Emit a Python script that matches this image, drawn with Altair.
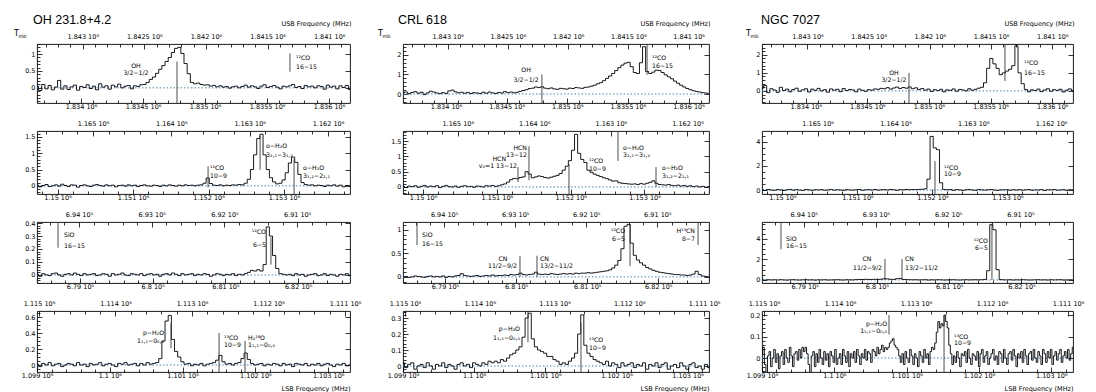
import math
import altair as alt
import pandas as pd

FONT = "DejaVu Sans"
TITLE_FONT = "Liberation Sans"
BLUE = "#3f86d6"
MARK_COLOR = "#3a3a3a"

SOURCES = ["OH 231.8+4.2", "CRL 618", "NGC 7027"]
PANEL_W = [313, 306, 311]
PANEL_H = [59, 63, 61, 61]

# frequency windows (MHz) per row: LSB (bottom axis) and USB (top axis)
LSB_RANGE = [[1833645, 1836169], [1149728, 1153874], [678409, 682714], [1099000, 1103300]]
USB_RANGE = [[1840831, 1843371], [1161719, 1165715], [690273, 694578], [1110935, 1115026]]
LSB_TICKS = [[1834000, 1834500, 1835000, 1835500, 1836000],
             [1150000, 1151000, 1152000, 1153000],
             [679000, 680000, 681000, 682000],
             [1099000, 1100000, 1101000, 1102000, 1103000]]
USB_TICKS = [[1841000, 1841500, 1842000, 1842500, 1843000],
             [1162000, 1163000, 1164000, 1165000],
             [691000, 692000, 693000, 694000],
             [1111000, 1112000, 1113000, 1114000, 1115000]]
TICK_EXP = [6, 6, 5, 6]
X_MINOR = [100, 200, 200, 200]

Y_RANGE = [
    [[-0.45, 1.30], [-0.25, 1.68], [-0.062, 0.408], [-0.0875, 0.675]],
    [[-0.46, 2.56], [-0.23, 1.83], [-0.13, 1.17], [-0.0375, 0.344]],
    [[-0.67, 2.60], [-0.33, 4.90], [-0.30, 5.66], [-0.065, 0.219]],
]
Y_TICKS = [
    [[0, 0.5, 1], [0, 0.5, 1, 1.5], [0, 0.1, 0.2, 0.3, 0.4], [0, 0.2, 0.4, 0.6]],
    [[0, 1, 2], [0, 0.5, 1, 1.5], [0, 0.5, 1], [0, 0.1, 0.2, 0.3]],
    [[0, 1, 2], [0, 2, 4], [0, 2, 4], [0, 0.1, 0.2]],
]
Y_MINOR = [[0.1, 0.1, 0.02, 0.05], [0.2, 0.1, 0.1, 0.02], [0.2, 0.5, 0.5, 0.02]]

# ---------------- spectra (Tmb, evenly spaced channels across each window) ----------------
OH231_R1 = [0.05, -0.08, 0.10, -0.03, 0.07, -0.06, 0.02, 0.22, -0.04, 0.06,
            -0.05, 0.03, 0.08, -0.07, 0.04, 0.01, 0.09, -0.02, 0.05, -0.06,
            0.12, 0.02, 0.06, -0.04, 0.08, 0.03, 0.11, 0.00, 0.05, 0.07,
            -0.03, 0.06, 0.04, 0.09, 0.10, 0.16, 0.25, 0.32, 0.43, 0.55,
            0.66, 0.78, 0.90, 1.05, 1.17, 1.20, 1.02, 0.72, 0.42, 0.16,
            0.12, 0.14, 0.10, 0.08, 0.09, 0.05, 0.07, 0.03, 0.06, 0.02,
            0.04, -0.01, 0.03, 0.05, 0.00, 0.04, 0.08, 0.02, 0.06, 0.03,
            -0.02, 0.05, 0.09, 0.01, 0.04, 0.07, 0.02, -0.03, 0.05, 0.03,
            0.06, 0.10, 0.01, 0.04, -0.02, 0.07, 0.03, 0.05, 0.00, 0.06,
            0.04, -0.04, 0.08, 0.02, 0.05, -0.03, 0.06, 0.01, 0.07, -0.05]
OH231_R2 = [0.02, -0.03, 0.01, 0.04, -0.02, 0.00, 0.03, -0.01, 0.05, 0.01,
            -0.02, 0.03, 0.02, -0.04, 0.01, 0.03, 0.00, -0.02, 0.02, 0.04,
            0.01, -0.01, 0.03, 0.00, 0.02, -0.03, 0.01, 0.02, -0.01, 0.03,
            0.00, 0.02, -0.02, 0.01, 0.03, 0.00, -0.01, 0.02, 0.01, -0.02,
            0.02, 0.00, 0.03, 0.01, -0.01, 0.02, 0.00, 0.03, 0.01, 0.02,
            0.00, 0.02, 0.03, 0.08, 0.24, 0.07, 0.02, 0.01, 0.03, 0.00,
            0.02, 0.01, 0.03, 0.02, 0.04, 0.03, 0.08, 0.20, 0.50, 0.95,
            1.45, 1.58, 0.95, 0.50, 0.25, 0.12, 0.06, 0.08, 0.18, 0.40,
            0.70, 0.88, 0.72, 0.35, 0.10, 0.04, 0.02, 0.03, 0.00, 0.02,
            0.01, -0.02, 0.02, 0.00, 0.03, -0.01, 0.02, -0.03, 0.01, 0.00]
OH231_R3 = [0.005, -0.01, 0.01, 0.00, -0.005, 0.01, 0.015, 0.00, -0.01, 0.005,
            0.01, 0.00, 0.015, 0.005, -0.005, 0.01, 0.00, 0.005, 0.01, -0.005,
            0.00, 0.01, 0.005, -0.01, 0.01, 0.00, 0.005, 0.015, 0.00, -0.005,
            0.01, 0.005, 0.00, 0.01, -0.005, 0.005, 0.01, 0.00, 0.005, -0.01,
            0.005, 0.01, 0.00, 0.015, 0.005, -0.005, 0.01, 0.00, 0.005, 0.01,
            -0.005, 0.005, 0.00, 0.01, 0.005, -0.01, 0.00, 0.01, 0.005, -0.005,
            0.005, 0.00, 0.01, -0.005, 0.005, 0.00, 0.01, 0.02, 0.035, 0.03,
            0.04, 0.03, 0.08, 0.37, 0.30, 0.15, 0.05, 0.01, 0.005, 0.00,
            0.005, -0.005, 0.01, 0.00, 0.005, -0.01, 0.00, 0.005, 0.01, -0.005,
            0.00, 0.01, -0.005, 0.005, 0.00, -0.01, 0.005, 0.00, 0.01, -0.005]
OH231_R4 = [0.01, -0.02, 0.02, 0.00, 0.03, -0.01, 0.01, 0.02, -0.02, 0.00,
            0.02, 0.01, -0.01, 0.03, 0.00, 0.01, -0.02, 0.02, 0.00, 0.01,
            0.03, -0.01, 0.01, 0.02, 0.00, -0.02, 0.02, 0.01, 0.03, 0.00,
            0.01, 0.02, -0.01, 0.02, 0.00, 0.03, 0.01, 0.02, 0.03, 0.08,
            0.30, 0.55, 0.62, 0.32, 0.17, 0.10, 0.04, 0.01, 0.02, -0.01,
            0.01, 0.00, 0.02, -0.01, 0.01, 0.02, 0.03, 0.06, 0.12, 0.04,
            0.01, 0.02, 0.00, 0.02, 0.03, 0.08, 0.15, 0.07, 0.02, 0.00,
            0.01, 0.02, -0.01, 0.01, 0.00, 0.02, 0.01, -0.01, 0.02, 0.00,
            0.01, -0.02, 0.02, 0.01, 0.00, 0.02, -0.01, 0.01, 0.00, 0.02,
            -0.01, 0.01, 0.02, 0.00, -0.02, 0.01, 0.00, 0.02, -0.01, 0.00]

CRL618_R1 = [0.05, 0.10, 0.02, 0.08, 0.12, 0.04, 0.09, -0.03, 0.06, 0.14,
             0.10, 0.05, 0.02, 0.07, 0.03, 0.16, 0.20, 0.11, 0.06, 0.09,
             0.04, 0.08, 0.02, 0.07, 0.05, 0.03, 0.09, 0.04, 0.10, 0.06,
             0.03, 0.08, 0.05, 0.12, 0.07, 0.10, 0.06, 0.09, 0.14, 0.18,
             0.22, 0.28, 0.30, 0.36, 0.33, 0.37, 0.30, 0.27, 0.31, 0.26,
             0.24, 0.29, 0.27, 0.25, 0.30, 0.28, 0.33, 0.31, 0.29, 0.34,
             0.36, 0.40, 0.45, 0.52, 0.58, 0.68, 0.80, 0.92, 1.05, 1.20,
             1.35, 1.48, 1.58, 1.62, 1.40, 1.10, 1.05, 1.60, 2.42, 1.15,
             1.05, 1.12, 1.22, 1.20, 1.10, 0.98, 0.88, 0.78, 0.66, 0.55,
             0.45, 0.36, 0.28, 0.22, 0.17, 0.13, 0.10, 0.07, 0.05, 0.02]
CRL618_R2 = [0.02, -0.02, 0.03, 0.01, 0.04, -0.01, 0.02, 0.05, 0.00, 0.03,
             0.01, 0.04, -0.02, 0.02, 0.05, 0.01, 0.00, 0.03, -0.01, 0.02,
             0.04, 0.01, 0.02, -0.01, 0.03, 0.02, 0.00, 0.04, 0.03, 0.05,
             0.02, 0.04, 0.07, 0.10, 0.16, 0.24, 0.28, 0.27, 0.31, 0.33,
             0.50, 0.42, 0.30, 0.33, 0.36, 0.34, 0.31, 0.29, 0.32, 0.35,
             0.38, 0.44, 0.55, 0.68, 0.86, 1.20, 1.72, 1.10, 0.90, 0.80,
             0.55, 0.48, 0.42, 0.38, 0.34, 0.30, 0.27, 0.23, 0.19, 0.20,
             0.14, 0.12, 0.11, 0.10, 0.09, 0.10, 0.08, 0.11, 0.09, 0.12,
             0.15, 0.20, 0.12, 0.08, 0.07, 0.06, 0.08, 0.05, 0.04, 0.06,
             0.03, 0.05, 0.02, 0.04, 0.01, 0.03, 0.00, 0.02, -0.01, 0.01]
CRL618_R3 = [0.00, 0.01, -0.01, 0.00, 0.02, 0.01, 0.00, -0.01, 0.01, 0.02,
             0.00, 0.01, 0.00, 0.02, -0.01, 0.01, 0.00, 0.02, 0.03, 0.07,
             0.03, 0.02, 0.01, 0.02, 0.03, 0.01, 0.02, 0.03, 0.02, 0.04,
             0.02, 0.03, 0.03, 0.04, 0.03, 0.05, 0.04, 0.05, 0.08, 0.05,
             0.04, 0.05, 0.06, 0.10, 0.06, 0.05, 0.06, 0.05, 0.07, 0.06,
             0.05, 0.06, 0.07, 0.06, 0.07, 0.06, 0.08, 0.07, 0.08, 0.08,
             0.09, 0.08, 0.09, 0.10, 0.11, 0.12, 0.13, 0.15, 0.19, 0.25,
             0.35, 0.60, 1.08, 1.12, 0.72, 0.46, 0.36, 0.30, 0.25, 0.20,
             0.17, 0.14, 0.12, 0.10, 0.09, 0.08, 0.07, 0.06, 0.05, 0.05,
             0.04, 0.04, 0.03, 0.04, 0.06, 0.12, 0.05, 0.02, 0.01, 0.00]
CRL618_R4 = [0.02, -0.01, 0.01, 0.02, -0.02, 0.00, 0.01, -0.01, 0.02, 0.00,
             -0.02, 0.01, 0.00, 0.02, -0.01, 0.01, 0.00, -0.02, 0.01, 0.02,
             0.00, 0.01, -0.01, 0.02, 0.01, 0.00, 0.02, 0.01, 0.03, 0.02,
             0.03, 0.02, 0.04, 0.03, 0.05, 0.07, 0.08, 0.10, 0.12, 0.18,
             0.30, 0.33, 0.17, 0.12, 0.10, 0.09, 0.08, 0.06, 0.06, 0.04,
             0.03, 0.01, 0.02, 0.01, 0.03, 0.05, 0.08, 0.20, 0.32, 0.13,
             0.08, 0.06, 0.04, 0.03, 0.02, 0.01, 0.03, 0.00, 0.02, 0.01,
             -0.01, 0.02, 0.00, 0.01, 0.02, -0.01, 0.01, 0.00, 0.02, -0.02,
             0.01, 0.00, 0.02, -0.01, 0.01, 0.02, -0.02, 0.00, 0.01, -0.01,
             0.02, 0.00, -0.02, 0.01, 0.02, -0.01, 0.00, -0.02, 0.01, -0.01]

NGC7027_R1 = [0.15, 0.30, -0.10, 0.12, 0.05, -0.08, 0.20, 0.02, 0.10, -0.05,
              0.08, 0.15, -0.02, 0.06, 0.12, -0.06, 0.10, 0.03, 0.14, 0.00,
              0.07, -0.07, 0.11, 0.04, 0.09, -0.04, 0.13, 0.02, 0.08, 0.05,
              -0.05, 0.10, 0.03, -0.02, 0.07, 0.04, 0.11, 0.09, 0.14, 0.12,
              0.18, 0.10, 0.16, 0.21, 0.13, 0.19, 0.15, 0.22, 0.12, 0.17,
              0.08, 0.13, 0.04, 0.10, -0.03, 0.07, 0.02, 0.09, -0.05, 0.06,
              0.03, 0.11, -0.02, 0.08, 0.05, 0.00, 0.12, 0.04, 0.09, 0.15,
              0.20, 0.45, 1.25, 1.80, 1.50, 1.25, 0.90, 1.00, 1.10, 1.20,
              1.40, 2.50, 1.00, 0.40, 0.08, -0.05, 0.06, 0.02, 0.10, -0.04,
              0.05, 0.12, -0.02, 0.07, 0.03, 0.09, -0.06, 0.04, 0.11, 0.02]
NGC7027_R2 = [0.02, -0.03, 0.04, 0.00, -0.02, 0.03, 0.01, -0.04, 0.02, 0.05,
              -0.01, 0.03, 0.00, -0.03, 0.04, 0.01, -0.02, 0.02, 0.00, 0.03,
              -0.02, 0.01, 0.04, -0.01, 0.02, 0.00, -0.03, 0.03, 0.01, -0.01,
              0.02, 0.04, -0.02, 0.01, 0.03, 0.00, 0.05, -0.01, 0.02, 0.03,
              0.00, 0.04, 0.02, -0.02, 0.03, 0.01, 0.05, 0.02, 0.04, 0.03,
              0.05, 0.06, 0.10, 0.90, 4.45, 3.50, 3.35, 0.60, 0.05, 0.02,
              0.04, -0.02, 0.03, 0.01, -0.03, 0.02, 0.04, 0.00, -0.02, 0.03,
              0.01, -0.01, 0.02, 0.04, 0.00, -0.03, 0.02, 0.01, 0.03, -0.02,
              0.02, 0.00, 0.03, -0.01, 0.02, 0.04, -0.02, 0.01, 0.00, 0.03,
              -0.03, 0.02, 0.01, 0.04, -0.01, 0.00, 0.03, -0.02, 0.02, 0.01]
NGC7027_R3 = [0.01, -0.02, 0.02, 0.00, 0.01, -0.01, 0.02, 0.00, -0.02, 0.01,
              0.02, 0.00, -0.01, 0.01, 0.02, 0.00, 0.01, -0.02, 0.01, 0.00,
              0.02, -0.01, 0.00, 0.01, 0.02, 0.00, -0.01, 0.02, 0.01, 0.00,
              0.03, 0.05, 0.04, 0.06, 0.05, 0.04, 0.06, 0.05, 0.07, 0.12,
              0.10, 0.06, 0.05, 0.12, 0.14, 0.05, 0.03, 0.02, 0.01, 0.02,
              0.00, 0.01, 0.02, -0.01, 0.01, 0.00, 0.02, 0.01, -0.01, 0.00,
              0.01, 0.02, 0.00, -0.01, 0.01, 0.02, 0.00, 0.01, 0.02, 0.01,
              0.02, 0.05, 0.90, 5.40, 4.90, 1.00, 0.03, 0.01, 0.00, 0.02,
              -0.01, 0.01, 0.00, 0.02, 0.01, -0.01, 0.00, 0.01, 0.02, 0.00,
              0.01, -0.01, 0.02, 0.00, 0.01, 0.02, -0.01, 0.00, 0.01, 0.00]
NGC7027_R4 = [0.02, 0.05, -0.03, -0.07, 0.01, 0.03, -0.04, 0.00, 0.04, -0.02,
              0.02, -0.05, 0.01, 0.03, -0.03, 0.04, 0.00, -0.02, 0.05, 0.01,
              -0.04, 0.02, 0.03, -0.01, 0.04, 0.00, 0.05, 0.03, 0.05, 0.02,
              -0.03, -0.09, 0.01, 0.03, -0.04, 0.02, -0.02, 0.04, 0.00, -0.03,
              0.03, -0.01, 0.02, -0.04, 0.03, 0.01, -0.02, 0.04, -0.03, 0.00,
              0.02, -0.03, 0.04, 0.01, -0.02, 0.03, -0.04, 0.02, 0.00, 0.03,
              -0.02, 0.04, 0.01, -0.03, 0.02, 0.00, 0.04, -0.01, 0.03, 0.02,
              -0.02, 0.04, 0.03, 0.01, 0.05, 0.02, 0.04, 0.06, 0.03, 0.05,
              0.04, 0.05, 0.07, 0.08, 0.09, 0.06, 0.05, 0.04, 0.01, -0.02,
              0.02, -0.03, 0.03, 0.00, -0.02, 0.04, 0.01, -0.03, 0.02, 0.00,
              -0.04, 0.03, 0.01, -0.02, 0.04, 0.00, 0.02, -0.03, 0.03, 0.05,
              0.04, 0.07, 0.12, 0.17, 0.14, 0.16, 0.15, 0.20, 0.17, 0.14,
              0.06, 0.02, -0.03, 0.01, -0.02, 0.03, 0.00, -0.04, 0.02, 0.01,
              0.03, -0.02, 0.04, 0.00, -0.03, 0.02, 0.01, -0.01, 0.03, -0.04,
              0.02, 0.04, -0.02, 0.01, 0.03, -0.03, 0.00, 0.02, 0.04, -0.01,
              0.01, -0.03, 0.03, 0.02, -0.02, 0.04, 0.00, -0.03, 0.02, 0.03,
              -0.01, 0.04, 0.01, -0.04, 0.02, 0.00, 0.03, -0.02, 0.04, 0.01,
              -0.03, 0.02, 0.03, -0.01, 0.04, 0.00, -0.02, 0.03, 0.01, -0.03,
              0.04, 0.02, -0.02, 0.03, 0.00, 0.04, -0.03, 0.01, 0.03, -0.01,
              0.02, 0.04, -0.02, 0.01, 0.03, 0.00, 0.04, -0.01, 0.02, 0.05]

SPECTRA = [[OH231_R1, OH231_R2, OH231_R3, OH231_R4],
           [CRL618_R1, CRL618_R2, CRL618_R3, CRL618_R4],
           [NGC7027_R1, NGC7027_R2, NGC7027_R3, NGC7027_R4]]

# ---------------- line identification markers: [freq, Tmb from, Tmb to] ----------------
MARKERS = [
    [[[1834774, -0.45, 0.78], [1835685, 0.48, 1.02]],
     [[1151994, -0.05, 0.60], [1152683, 0.49, 1.53], [1153133, -0.25, 0.81]],
     [[678698, 0.21, 0.40], [681627, 0.08, 0.29]],
     [[1100841, 0.21, 0.52], [1101501, -0.0875, 0.40], [1101858, -0.0875, 0.30]]],
    [[[1834791, -0.46, 1.00], [1835658, 0.98, 2.56]],
     [[1151286, 0.16, 0.65], [1151435, 0.22, 1.33], [1151977, -0.23, 0.75],
      [1152641, 0.85, 1.83], [1153156, 0.00, 0.65]],
     [[678606, 0.68, 1.17], [680055, 0.00, 0.45], [680294, 0.00, 0.45],
      [681603, 0.23, 1.12], [682560, 0.68, 1.17]],
     [[1100756, 0.15, 0.34], [1101501, -0.0375, 0.27]]],
    [[[1834838, -0.67, 1.00], [1835617, 0.55, 2.55]],
     [[1152034, -0.33, 2.40]],
     [[678672, 3.00, 5.66], [680111, 0.00, 2.05], [680347, 0.00, 2.05], [681592, 0.00, 5.50]],
     [[1100756, 0.11, 0.20], [1101517, -0.065, 0.20]]],
]

# ---------------- line labels: [text, freq, Tmb, alignment] ----------------
LABELS = [
    [[["OH", 1834443, 0.66, "center"], ["3/2−1/2", 1834443, 0.45, "center"],
      ["¹²CO", 1835734, 0.87, "left"], ["16−15", 1835734, 0.63, "left"]],
     [["¹²CO", 1152020, 0.55, "left"], ["10−9", 1152020, 0.31, "left"],
      ["o−H₂O", 1152762, 1.23, "left"], ["3₂,₁−3₁,₂", 1152762, 0.95, "left"],
      ["o−H₂O", 1153253, 0.55, "left"], ["3₁,₂−2₂,₁", 1153253, 0.31, "left"]],
     [["SiO", 678780, 0.31, "left"], ["16−15", 678780, 0.22, "left"],
      ["¹²CO", 681558, 0.33, "right"], ["6−5", 681558, 0.23, "right"]],
     [["p−H₂O", 1100745, 0.40, "right"], ["1₁,₁−0₀,₀", 1100745, 0.30, "right"],
      ["¹³CO", 1101569, 0.34, "left"], ["10−9", 1101569, 0.25, "left"],
      ["H₂¹⁸O", 1101899, 0.34, "left"], ["1₁,₁−0₀,₀", 1101899, 0.25, "left"]]],
    [[["OH", 1834660, 1.23, "center"], ["3/2−1/2", 1834660, 0.72, "center"],
      ["¹²CO", 1835699, 1.85, "left"], ["16−15", 1835699, 1.45, "left"]],
     [["HCN", 1151124, 0.93, "right"], ["v₂=1  13−12", 1151273, 0.69, "right"],
      ["HCN", 1151408, 1.27, "right"], ["13−12", 1151408, 1.04, "right"],
      ["¹²CO", 1152248, 0.85, "left"], ["10−9", 1152248, 0.59, "left"],
      ["o−H₂O", 1152709, 1.27, "left"], ["3₂,₁−3₁,₂", 1152709, 1.05, "left"],
      ["o−H₂O", 1153237, 0.62, "left"], ["3₁,₂−2₂,₁", 1153237, 0.36, "left"]],
     [["SiO", 678676, 0.89, "left"], ["16−15", 678676, 0.70, "left"],
      ["CN", 679816, 0.38, "center"], ["11/2−9/2", 680013, 0.23, "right"],
      ["CN", 680337, 0.38, "left"], ["13/2−11/2", 680337, 0.23, "left"],
      ["¹²CO", 681533, 0.98, "right"], ["6−5", 681533, 0.81, "right"],
      ["H¹³CN", 682517, 0.98, "right"], ["8−7", 682517, 0.81, "right"]],
     [["p−H₂O", 1100644, 0.234, "right"], ["1₁,₁−0₀,₀", 1100644, 0.177, "right"],
      ["¹³CO", 1101613, 0.16, "left"], ["10−9", 1101613, 0.114, "left"]]],
    [[["OH", 1834716, 1.00, "center"], ["3/2−1/2", 1834716, 0.61, "center"],
      ["¹²CO", 1835771, 1.56, "left"], ["16−15", 1835771, 1.00, "left"]],
     [["¹²CO", 1152154, 1.83, "left"], ["10−9", 1152154, 1.33, "left"]],
     [["SiO", 678741, 4.00, "left"], ["16−15", 678741, 3.32, "left"],
      ["CN", 679862, 2.05, "center"], ["11/2−9/2", 680070, 1.17, "right"],
      ["CN", 680388, 2.05, "left"], ["13/2−11/2", 680388, 1.17, "left"],
      ["¹²CO", 681537, 3.80, "right"], ["6−5", 681537, 3.12, "right"]],
     [["p−H₂O", 1100729, 0.157, "right"], ["1₁,₁−0₀,₀", 1100729, 0.124, "right"],
      ["¹³CO", 1101655, 0.10, "left"], ["10−9", 1101655, 0.071, "left"]]],
]

TITLE_DX = [-4, -5, -1]
TMB_DX = [-23, -25, -16]
SUP = {5: "⁵", 6: "⁶"}


def ticks_between(lo, hi, step, skip):
    k0 = math.ceil(lo / step - 1e-9)
    k1 = math.floor(hi / step + 1e-9)
    out = []
    for k in range(k0, k1 + 1):
        v = round(k * step, 6)
        if all(abs(v - s) > step * 1e-3 for s in skip):
            out.append(v)
    return out


def panel(c, r):
    W, H = PANEL_W[c], PANEL_H[r]
    lo, hi = LSB_RANGE[r]
    ulo, uhi = USB_RANGE[r]
    ymin, ymax = Y_RANGE[c][r]
    xs = alt.Scale(domain=[lo, hi], nice=False, zero=False)
    us = alt.Scale(domain=[ulo, uhi], nice=False, zero=False, reverse=True)
    ys = alt.Scale(domain=[ymin, ymax], nice=False, zero=False)

    vals = SPECTRA[c][r]
    n = len(vals)
    spec_df = pd.DataFrame({"f": [lo + i * (hi - lo) / (n - 1) for i in range(n)], "t": vals})
    one = pd.DataFrame({"f": [lo], "u": [ulo], "t": [0.0]})

    e = TICK_EXP[r]
    lab = f"format(datum.value / {10 ** e}, '.6~g') + ' 10{SUP[e]}'"

    bkw = dict(orient="bottom", values=LSB_TICKS[r], labelExpr=lab, offset=-5, tickSize=5,
               labelPadding=0, labelFlush=False, labelOverlap=False)
    if r == 3:
        bkw.update(title="LSB Frequency (MHz)", titleX=W, titleY=23.5, titleAlign="right",
                   titleBaseline="alphabetic", titleAngle=0)
    else:
        bkw.update(title=None)
    tkw = dict(orient="top", values=USB_TICKS[r], labelExpr=lab, offset=-5, tickSize=5,
               labelPadding=5, labelFlush=False, labelOverlap=False)
    if r == 0:
        tkw.update(title="USB Frequency (MHz)", titleX=W + 1, titleY=-23.5, titleAlign="right",
                   titleBaseline="alphabetic", titleAngle=0)
    else:
        tkw.update(title=None)

    left_axis = alt.Axis(orient="left", values=Y_TICKS[c][r], format="~g", offset=-5, tickSize=5,
                         labelPadding=2, labelOverlap=False, labelFlush=False, title=None)

    layers = []
    # dotted zero baseline, carrying the USB (top) axis
    base_df = pd.DataFrame({"u1": [uhi], "u2": [ulo], "t": [0.0]})
    layers.append(alt.Chart(base_df).mark_rule(color=BLUE, strokeDash=[1.5, 2], strokeWidth=1).encode(
        x=alt.X("u1:Q", scale=us, axis=alt.Axis(**tkw)), x2="u2:Q",
        y=alt.Y("t:Q", scale=ys, axis=None)))
    # spectrum
    layers.append(alt.Chart(spec_df).mark_line(interpolate="step", color="black", strokeWidth=0.9,
                                               clip=True).encode(
        x=alt.X("f:Q", scale=xs, axis=alt.Axis(**bkw)),
        y=alt.Y("t:Q", scale=ys, axis=left_axis)))
    # minor ticks bottom / left
    layers.append(alt.Chart(one).mark_point(opacity=0).encode(
        x=alt.X("f:Q", scale=xs, axis=alt.Axis(orient="bottom", values=ticks_between(lo, hi, X_MINOR[r], LSB_TICKS[r]),
                                                 offset=-3, tickSize=3, labels=False, title=None)),
        y=alt.Y("t:Q", scale=ys, axis=alt.Axis(orient="left", values=ticks_between(ymin, ymax, Y_MINOR[c][r], Y_TICKS[c][r]),
                                                 offset=-3, tickSize=3, labels=False, title=None))))
    # right ticks
    layers.append(alt.Chart(one).mark_point(opacity=0).encode(
        x=alt.X("f:Q", scale=xs, axis=None),
        y=alt.Y("t:Q", scale=ys, axis=alt.Axis(orient="right", values=Y_TICKS[c][r], offset=-5, tickSize=5,
                                                 labels=False, title=None))))
    # minor ticks top
    layers.append(alt.Chart(one).mark_point(opacity=0).encode(
        x=alt.X("u:Q", scale=us, axis=alt.Axis(orient="top", values=ticks_between(ulo, uhi, X_MINOR[r], USB_TICKS[r]),
                                                 offset=-3, tickSize=3, labels=False, title=None)),
        y=alt.Y("t:Q", scale=ys, axis=None)))
    # line markers
    mk = pd.DataFrame(MARKERS[c][r], columns=["f", "t1", "t2"])
    layers.append(alt.Chart(mk).mark_rule(color=MARK_COLOR, strokeWidth=0.9, clip=True).encode(
        x=alt.X("f:Q", scale=xs, axis=None),
        y=alt.Y("t1:Q", scale=ys, axis=None), y2="t2:Q"))
    # line labels
    lb = pd.DataFrame(LABELS[c][r], columns=["txt", "f", "t", "al"])
    for al in ["left", "center", "right"]:
        sub = lb[lb["al"] == al][["txt", "f", "t"]]
        if len(sub):
            layers.append(alt.Chart(sub).mark_text(align=al, baseline="middle", font=FONT, fontSize=6.2,
                                                   color="black").encode(
                x=alt.X("f:Q", scale=xs, axis=None),
                y=alt.Y("t:Q", scale=ys, axis=None),
                text="txt:N"))
    if r == 0:
        blank = alt.Data(values=[{}])
        layers.append(alt.Chart(blank).mark_text(align="left", baseline="alphabetic", font=TITLE_FONT,
                                                 fontSize=12.5, color="black").encode(
            x=alt.value(TITLE_DX[c]), y=alt.value(-20), text=alt.value(SOURCES[c])))
        layers.append(alt.Chart(blank).mark_text(align="left", baseline="alphabetic", font=FONT,
                                                 fontSize=8, color="black").encode(
            x=alt.value(TMB_DX[c]), y=alt.value(-8), text=alt.value("T")))
        layers.append(alt.Chart(blank).mark_text(align="left", baseline="alphabetic", font=FONT,
                                                 fontSize=5, color="black").encode(
            x=alt.value(TMB_DX[c] + 4.5), y=alt.value(-6.5), text=alt.value("mb")))

    return alt.layer(*layers).resolve_scale(x="independent", y="independent").properties(width=W, height=H)


panels = [panel(c, r) for r in range(4) for c in range(3)]

chart = alt.concat(*panels, columns=3, spacing={"row": 28, "column": 53}, bounds="flush").properties(
    padding={"left": 5, "top": 5, "right": 0, "bottom": 0},
    background="white",
).configure_view(
    stroke="black", strokeWidth=0.9
).configure_axis(
    domain=False, grid=False, labelFont=FONT, labelFontSize=6.5, labelColor="black",
    tickColor="black", tickWidth=0.8, titleFont=FONT, titleFontSize=6.5,
    titleFontWeight="normal", titleColor="black"
)

chart.save("out.html", embed_options={"renderer": "svg", "actions": False})
